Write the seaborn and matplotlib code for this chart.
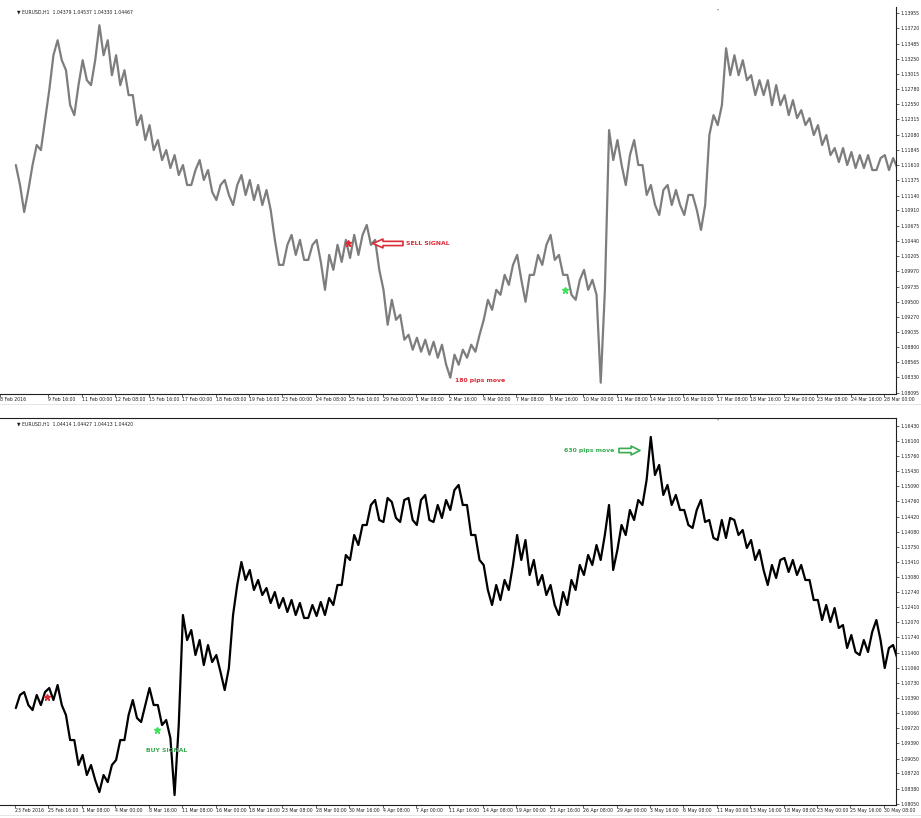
import matplotlib
matplotlib.use("Agg")
import matplotlib.pyplot as plt
import pandas as pd
import seaborn as sns

# --------------------------------------------------
# EURUSD H1 - two MT4 style charts with signal notes
# --------------------------------------------------

sns.set_theme(style="white")
plt.rcParams["font.family"] = ["DejaVu Sans"]

# Top chart: one high/low pair every 8 hourly bars (8 Feb -> 28 Mar 2016)
top_high = [
    1.11611, 1.11226, 1.11920, 1.12305, 1.13307, 1.13539, 1.13076, 1.12845, 1.13230, 1.13230,
    1.13770, 1.13539, 1.13307, 1.13076, 1.12691, 1.12382, 1.12228, 1.11997, 1.11842, 1.11765,
    1.11611, 1.11534, 1.11688, 1.11534, 1.11303, 1.11380, 1.11303, 1.11457, 1.11380, 1.11303,
    1.11226, 1.10455, 1.10378, 1.10532, 1.10455, 1.10378, 1.10455, 1.10223, 1.10378, 1.10455,
    1.10532, 1.10532, 1.10686, 1.10455, 1.09684, 1.09530, 1.09298, 1.08990, 1.08944, 1.08913,
    1.08882, 1.08836, 1.08682, 1.08759, 1.08836, 1.08990, 1.09530, 1.09684, 1.09915, 1.10069,
    1.10223, 1.09915, 1.10223, 1.10378, 1.10532, 1.10223, 1.09915, 1.09838, 1.09992, 1.09838,
    1.09684, 1.12151, 1.11997, 1.11765, 1.11997, 1.11611, 1.11303, 1.11226, 1.11303, 1.11226,
    1.11149, 1.11149, 1.10994, 1.12382, 1.12536, 1.13415, 1.13307, 1.13230, 1.12999, 1.12922,
    1.12922, 1.12845, 1.12691, 1.12613, 1.12459, 1.12336, 1.12228, 1.12074, 1.11873, 1.11873,
    1.11812, 1.11765, 1.11765, 1.11719, 1.11765, 1.11719,
]
top_low = [
    1.11303, 1.10886, 1.11611, 1.11842, 1.12768, 1.13230, 1.12536, 1.12382, 1.12922, 1.12845,
    1.13307, 1.12999, 1.12845, 1.12691, 1.12228, 1.11997, 1.11842, 1.11688, 1.11565, 1.11457,
    1.11303, 1.11303, 1.11380, 1.11195, 1.11071, 1.11149, 1.10994, 1.11149, 1.11071, 1.10994,
    1.10917, 1.10069, 1.10069, 1.10223, 1.10146, 1.10146, 1.10115, 1.09684, 1.09992, 1.10115,
    1.10177, 1.10223, 1.10378, 1.09992, 1.09144, 1.09221, 1.08913, 1.08759, 1.08728, 1.08682,
    1.08635, 1.08527, 1.08327, 1.08527, 1.08635, 1.08728, 1.09221, 1.09375, 1.09607, 1.09761,
    1.09838, 1.09499, 1.09915, 1.10069, 1.10146, 1.09915, 1.09607, 1.09530, 1.09684, 1.09607,
    1.08250, 1.11688, 1.11611, 1.11303, 1.11611, 1.11149, 1.10994, 1.10840, 1.10994, 1.10994,
    1.10840, 1.10917, 1.10609, 1.12074, 1.12228, 1.12999, 1.12999, 1.12922, 1.12691, 1.12691,
    1.12536, 1.12536, 1.12382, 1.12336, 1.12228, 1.12074, 1.11920, 1.11765, 1.11657, 1.11611,
    1.11565, 1.11565, 1.11534, 1.11534, 1.11534, 1.11565,
]

# Bottom chart: one high/low pair every 16 hourly bars (23 Feb -> 30 May 2016)
bot_high = [
    1.10461, 1.10527, 1.10461, 1.10527, 1.10616, 1.10683, 1.10017, 1.09462, 1.09130, 1.08908,
    1.08686, 1.08908, 1.09462, 1.10017, 1.10350, 1.10239, 1.10616, 1.10239, 1.09906, 1.09795,
    1.12236, 1.11903, 1.11681, 1.11570, 1.11348, 1.11060, 1.12902, 1.13412, 1.13235, 1.13013,
    1.12835, 1.12746, 1.12613, 1.12569, 1.12502, 1.12458, 1.12525, 1.12613, 1.12902, 1.13568,
    1.14011, 1.14233, 1.14677, 1.14788, 1.14832, 1.14744, 1.14788, 1.14832, 1.14788, 1.14899,
    1.14677, 1.14788, 1.15010, 1.15121, 1.14677, 1.14011, 1.13346, 1.12902, 1.13013, 1.13346,
    1.14011, 1.13900, 1.13457, 1.13124, 1.12902, 1.12746, 1.13013, 1.13346, 1.13568, 1.13789,
    1.14011, 1.14677, 1.14233, 1.14566, 1.14788, 1.15232, 1.16186, 1.15565, 1.15121, 1.14899,
    1.14566, 1.14566, 1.14788, 1.14344, 1.14344, 1.14389, 1.14344, 1.14122, 1.13900, 1.13679,
    1.13346, 1.13457, 1.13501, 1.13457, 1.13346, 1.13013, 1.12569, 1.12458, 1.12392, 1.12014,
    1.11792, 1.11681, 1.11859, 1.12125, 1.11504, 1.11570,
]
bot_low = [
    1.10172, 1.10239, 1.10128, 1.10239, 1.10350, 1.10239, 1.09462, 1.08908, 1.08686, 1.08575,
    1.08308, 1.08530, 1.09019, 1.09462, 1.09951, 1.09862, 1.10239, 1.09795, 1.09507, 1.08242,
    1.11681, 1.11348, 1.11127, 1.11193, 1.10971, 1.10572, 1.12236, 1.13013, 1.12791, 1.12680,
    1.12502, 1.12392, 1.12303, 1.12236, 1.12170, 1.12170, 1.12214, 1.12236, 1.12458, 1.12902,
    1.13457, 1.13789, 1.14233, 1.14344, 1.14300, 1.14389, 1.14300, 1.14344, 1.14233, 1.14344,
    1.14300, 1.14389, 1.14566, 1.14677, 1.14011, 1.13457, 1.12791, 1.12458, 1.12569, 1.12791,
    1.13457, 1.13124, 1.12902, 1.12680, 1.12458, 1.12236, 1.12458, 1.12791, 1.13124, 1.13346,
    1.13457, 1.13235, 1.13679, 1.14011, 1.14344, 1.14677, 1.15343, 1.14899, 1.14677, 1.14566,
    1.14233, 1.14167, 1.14300, 1.13945, 1.13900, 1.13945, 1.14011, 1.13723, 1.13457, 1.13235,
    1.12902, 1.13057, 1.13191, 1.13124, 1.13013, 1.12569, 1.12125, 1.12081, 1.11948, 1.11504,
    1.11415, 1.11348, 1.11415, 1.11681, 1.11060, 1.11282,
]

top_yticks = [1.13955, 1.13720, 1.13485, 1.13250, 1.13015, 1.12780, 1.12550, 1.12315, 1.12080,
              1.11845, 1.11610, 1.11375, 1.11140, 1.10910, 1.10675, 1.10440, 1.10205, 1.09970,
              1.09735, 1.09500, 1.09270, 1.09035, 1.08800, 1.08565, 1.08330, 1.08095]
bot_yticks = [1.16430, 1.16100, 1.15760, 1.15430, 1.15090, 1.14760, 1.14420, 1.14080, 1.13750,
              1.13410, 1.13080, 1.12740, 1.12410, 1.12070, 1.11740, 1.11400, 1.11060, 1.10730,
              1.10390, 1.10060, 1.09720, 1.09390, 1.09050, 1.08720, 1.08380, 1.08050]

top_xlabels = ["8 Feb 2016", "9 Feb 16:00", "11 Feb 00:00", "12 Feb 08:00", "15 Feb 16:00",
               "17 Feb 00:00", "18 Feb 08:00", "19 Feb 16:00", "23 Feb 00:00", "24 Feb 08:00",
               "25 Feb 16:00", "29 Feb 00:00", "1 Mar 08:00", "2 Mar 16:00", "4 Mar 00:00",
               "7 Mar 08:00", "8 Mar 16:00", "10 Mar 00:00", "11 Mar 08:00", "14 Mar 16:00",
               "16 Mar 00:00", "17 Mar 08:00", "18 Mar 16:00", "22 Mar 00:00", "23 Mar 08:00",
               "24 Mar 16:00", "28 Mar 00:00"]
bot_xlabels = ["23 Feb 2016", "25 Feb 16:00", "1 Mar 08:00", "4 Mar 00:00", "8 Mar 16:00",
               "11 Mar 08:00", "16 Mar 00:00", "18 Mar 16:00", "23 Mar 08:00", "28 Mar 00:00",
               "30 Mar 16:00", "4 Apr 08:00", "7 Apr 00:00", "11 Apr 16:00", "14 Apr 08:00",
               "19 Apr 00:00", "21 Apr 16:00", "26 Apr 08:00", "29 Apr 00:00", "3 May 16:00",
               "6 May 08:00", "11 May 00:00", "13 May 16:00", "18 May 08:00", "23 May 00:00",
               "25 May 16:00", "30 May 08:00"]

top_header = "\u25bc EURUSD,H1  1.04379 1.04537 1.04330 1.04467"
bot_header = "\u25bc EURUSD,H1  1.04414 1.04427 1.04413 1.04420"

RED = "#dc2b35"
GREEN = "#3aab50"
TICK_FS = 3.3
NOTE_FS = 4.4


def zigzag(highs, lows, step):
    # walk each bar group through its high and low so the line looks like dense H1 bars
    xs, ys = [], []
    n = len(highs)
    for i in range(n):
        mid = (highs[i] + lows[i]) / 2
        nxt = (highs[i + 1] + lows[i + 1]) / 2 if i + 1 < n else mid
        first, second = (lows[i], highs[i]) if nxt > mid else (highs[i], lows[i])
        xs += [i * step + step * 0.1, i * step + step * 0.6]
        ys += [first, second]
    return pd.DataFrame({"bar": xs, "price": ys})


def draw_series(ax, highs, lows, step, color):
    sns.lineplot(data=zigzag(highs, lows, step), x="bar", y="price", sort=False,
                 estimator=None, color=color, linewidth=1.6, ax=ax)


def style_axis(ax, xlim, ylim, yticks, xticks, xlabels, show_top):
    ax.set_xlim(*xlim)
    ax.set_ylim(*ylim)
    ax.set_facecolor("white")
    ax.spines["left"].set_visible(False)
    ax.spines["top"].set_visible(show_top)
    for side in ["right", "bottom", "top"]:
        ax.spines[side].set_color("#202020")
        ax.spines[side].set_linewidth(0.8)
    ax.yaxis.tick_right()
    ax.set_yticks(yticks)
    ax.set_yticklabels([f"{v:.5f}" for v in yticks], fontsize=TICK_FS)
    ax.set_xticks(xticks)
    ax.set_xticklabels(xlabels, fontsize=TICK_FS, ha="left")
    ax.tick_params(axis="y", right=True, left=False, direction="out", length=2, width=0.5,
                   pad=1.2, colors="#202020")
    ax.tick_params(axis="x", bottom=True, direction="out", length=2.2, width=0.5, pad=0.2,
                   colors="#202020")
    ax.set_xlabel("")
    ax.set_ylabel("")
    ax.grid(False)


fig = plt.figure(figsize=(9.21, 8.18), dpi=100)

# ==================================================
# TOP CHART
# ==================================================
ax1 = fig.add_axes([0, 1 - 394 / 818, 896 / 921, 387 / 818])
draw_series(ax1, top_high, top_low, 8, "#7d7d7d")
top_xticks = [-14.3] + [32 * k for k in range(1, len(top_xlabels))]
style_axis(ax1, (-14.36, 843.5), (1.08075, 1.14052), top_yticks, top_xticks, top_xlabels, False)
ax1.text(0.019, 0.993, top_header, transform=ax1.transAxes, fontsize=TICK_FS,
         va="top", ha="left", color="#202020")
ax1.text(0.801, 1.0, "\u25be", transform=ax1.transAxes, fontsize=3, va="top",
         ha="center", color="#9a9a9a")

# signals
ax1.plot([318.8], [1.10407], marker="*", color=RED, markersize=5, linestyle="none")
ax1.plot([526.6], [1.09681], marker="*", color="#3fe05a", markersize=5, linestyle="none")
ax1.annotate("", xy=(342.7, 1.10400), xytext=(371.5, 1.10400),
             arrowprops=dict(arrowstyle="simple,head_length=0.9,head_width=0.8,tail_width=0.38",
                             fc="white", ec=RED, lw=1.2, shrinkA=0, shrinkB=0,
                             mutation_scale=8))
ax1.text(374.3, 1.10407, "SELL SIGNAL", color=RED, fontsize=NOTE_FS, fontweight="bold",
         va="center", ha="left")
ax1.text(421.3, 1.08276, "180 pips move", color=RED, fontsize=NOTE_FS, fontweight="bold",
         va="center", ha="left")

# ==================================================
# BOTTOM CHART
# ==================================================
ax2 = fig.add_axes([0, 1 - 805 / 818, 896 / 921, 387 / 818])
draw_series(ax2, bot_high, bot_low, 16, "black")
bot_xticks = [64 * k for k in range(len(bot_xlabels))]
style_axis(ax2, (-28.7, 1687.2), (1.08021, 1.16607), bot_yticks, bot_xticks, bot_xlabels, True)
ax2.text(0.019, 0.99, bot_header, transform=ax2.transAxes, fontsize=TICK_FS,
         va="top", ha="left", color="#202020")
ax2.text(0.801, 1.003, "\u25be", transform=ax2.transAxes, fontsize=3, va="top",
         ha="center", color="#9a9a9a")

ax2.plot([61.3], [1.10417], marker="*", color=RED, markersize=5, linestyle="none")
ax2.plot([271.9], [1.09685], marker="*", color="#3fe05a", markersize=5, linestyle="none")
ax2.text(250.9, 1.09241, "BUY SIGNAL", color=GREEN, fontsize=NOTE_FS, fontweight="bold",
         va="center", ha="left")
ax2.text(1051.3, 1.15875, "630 pips move", color=GREEN, fontsize=NOTE_FS, fontweight="bold",
         va="center", ha="left")
ax2.annotate("", xy=(1196.9, 1.15886), xytext=(1156.6, 1.15886),
             arrowprops=dict(arrowstyle="simple,head_length=0.8,head_width=0.8,tail_width=0.38",
                             fc="white", ec=GREEN, lw=1.2, shrinkA=0, shrinkB=0,
                             mutation_scale=8))

# faint window borders under each date row
for y_px in (404, 815):
    fig.add_artist(plt.Line2D([0, 1], [1 - y_px / 818] * 2, color="#e0e0e0", linewidth=0.6))

plt.savefig("out.png", dpi=100)
